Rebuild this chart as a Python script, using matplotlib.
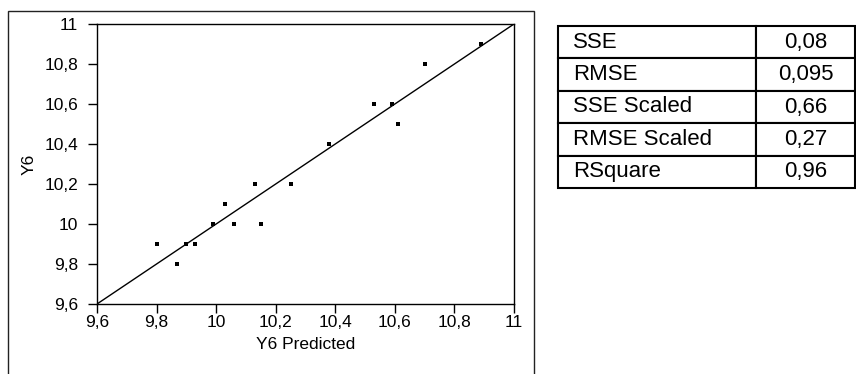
import matplotlib.pyplot as plt
from matplotlib.patches import Rectangle
from matplotlib.ticker import FuncFormatter

plt.rcParams['font.family'] = ['Liberation Sans', 'DejaVu Sans']

# actual vs predicted
predicted = [9.80, 9.87, 9.90, 9.93, 9.99, 10.03, 10.06, 10.13, 10.15, 10.25,
             10.38, 10.53, 10.59, 10.61, 10.70, 10.89]
actual = [9.9, 9.8, 9.9, 9.9, 10.0, 10.1, 10.0, 10.2, 10.0, 10.2,
          10.4, 10.6, 10.6, 10.5, 10.8, 10.9]
ticks = [9.6, 9.8, 10.0, 10.2, 10.4, 10.6, 10.8, 11.0]

stat_names = ["SSE", "RMSE", "SSE Scaled", "RMSE Scaled", "RSquare"]
stat_values = ["0,08", "0,095", "0,66", "0,27", "0,96"]

W, H = 856, 374
fig = plt.figure(figsize=(W / 100, H / 100), dpi=100)

# axes box in pixels: left 97, right 514, top 24, bottom 304
ax = fig.add_axes([97 / W, 1 - 304 / H, (514 - 97) / W, (304 - 24) / H])
ax.plot([9.6, 11], [9.6, 11], color='black', lw=1)
ax.scatter(predicted, actual, s=5, marker='s', color='black', linewidths=0, zorder=3)
ax.set_xlim(9.6, 11)
ax.set_ylim(9.6, 11)
ax.set_xticks(ticks)
ax.set_yticks(ticks)
fmt = FuncFormatter(lambda v, p: ("%g" % round(v, 1)).replace('.', ','))
ax.xaxis.set_major_formatter(fmt)
ax.yaxis.set_major_formatter(fmt)
ax.tick_params(direction='out', length=6.5, width=1, labelsize=12.5, color='black')
ax.tick_params(axis='x', pad=1.5)
ax.tick_params(axis='y', pad=7)
ax.set_xlabel("Y6 Predicted", fontsize=12.5, labelpad=5)
ax.set_ylabel("Y6", fontsize=12.5, labelpad=6)
for s in ax.spines.values():
    s.set_linewidth(1)

# outer frame around the plot
fig.patches.append(Rectangle((8 / W, -0.05), (534 - 8) / W, 1.05 - 11 / H,
                             transform=fig.transFigure, fill=False,
                             edgecolor='#222222', lw=1))

# statistics table
tab = fig.add_axes([558 / W, 1 - 188 / H, (855 - 558) / W, (188 - 26) / H])
tbl = tab.table(cellText=[[n, v] for n, v in zip(stat_names, stat_values)],
                colWidths=[(756 - 558) / (855 - 558), (855 - 756) / (855 - 558)],
                bbox=[0, 0, 1, 1])
tbl.auto_set_font_size(False)
for (r, c), cell in tbl.get_celld().items():
    cell.set_linewidth(1.5)
    cell.set_fontsize(16)
    if c == 0:
        cell.set_text_props(ha='left')
        cell.PAD = 0.075
    else:
        cell.set_text_props(ha='center')
tab.axis('off')

fig.savefig("out.png", dpi=100)
